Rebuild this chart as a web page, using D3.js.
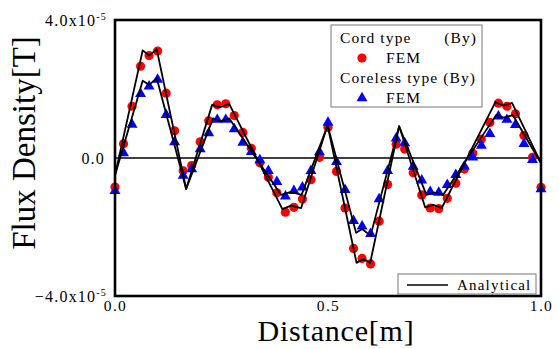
<!DOCTYPE html>
<html>
<head>
<meta charset="utf-8">
<script src="https://cdn.jsdelivr.net/npm/d3@7"></script>
<style>
  body { margin: 0; background: #fff; }
  svg { display: block; }
  svg text { font-family: "Liberation Serif", "DejaVu Serif", serif; }
</style>
</head>
<body>
<div id="chart"></div>
<script>
// Distance positions of the FEM samples [m]
const distance = [0.00, 0.02, 0.04, 0.06, 0.08, 0.10, 0.12, 0.14, 0.16, 0.18,
  0.20, 0.22, 0.24, 0.26, 0.28, 0.30, 0.32, 0.34, 0.36, 0.38,
  0.40, 0.42, 0.44, 0.46, 0.48, 0.50, 0.52, 0.54, 0.56, 0.58,
  0.60, 0.62, 0.64, 0.66, 0.68, 0.70, 0.72, 0.74, 0.76, 0.78,
  0.80, 0.82, 0.84, 0.86, 0.88, 0.90, 0.92, 0.94, 0.96, 0.98, 1.00];

// FEM values, unit 1e-5 T
const cordFEM = [-0.84, 0.41, 1.50, 2.66, 2.97, 3.10, 1.88, 0.79, -0.37, -0.22,
  0.47, 1.08, 1.54, 1.57, 1.23, 0.74, 0.28, -0.14, -0.56, -1.01,
  -1.57, -1.43, -1.19, -0.63, 0.02, 0.89, -0.39, -1.45, -2.62, -2.91,
  -3.07, -1.83, -0.77, 0.40, 0.26, -0.43, -1.07, -1.45, -1.47, -1.17,
  -0.73, -0.32, 0.14, 0.55, 1.03, 1.59, 1.50, 1.28, 0.65, 0.02, -0.85];

const corelessFEM = [-0.95, 0.14, 0.97, 1.86, 2.08, 2.27, 1.25, 0.46, -0.51, -0.32,
  0.26, 0.72, 1.11, 1.11, 0.84, 0.45, 0.18, -0.06, -0.37, -0.69,
  -1.11, -0.95, -0.85, -0.37, 0.17, 1.03, -0.11, -0.92, -1.82, -1.98,
  -2.20, -1.19, -0.37, 0.57, 0.43, -0.25, -0.65, -0.98, -1.00, -0.78,
  -0.49, -0.24, 0.02, 0.36, 0.70, 1.21, 1.11, 0.96, 0.41, -0.05, -0.90];

// Analytical curves (break points), unit 1e-5 T
const cordAnaX = [0, 0.065, 0.08, 0.098, 0.167, 0.228, 0.247, 0.268, 0.393, 0.413, 0.437, 0.499,
  0.567, 0.583, 0.599, 0.667, 0.728, 0.747, 0.767, 0.893, 0.912, 0.932, 1.0];
const cordAnaY = [-0.5, 3.12, 2.97, 3.15, -0.9, 1.54, 1.47, 1.57, -1.48, -1.38, -1.45, 0.95,
  -3.04, -2.93, -3.04, 0.92, -1.43, -1.36, -1.45, 1.62, 1.52, 1.60, -0.15];

const corelessAnaX = [0, 0.065, 0.08, 0.098, 0.167, 0.23, 0.248, 0.268, 0.39, 0.413, 0.438, 0.499,
  0.566, 0.58, 0.6, 0.667, 0.731, 0.75, 0.77, 0.895, 0.912, 0.934, 1.0];
const corelessAnaY = [-0.5, 2.24, 2.12, 2.31, -0.9, 1.15, 1.07, 1.15, -1.07, -0.98, -1.07, 0.95,
  -2.17, -2.06, -2.25, 0.92, -1.07, -1.0, -1.07, 1.25, 1.17, 1.24, -0.15];

const xTicks = [0, 0.5, 1.0];
const yTicks = [-4, 0, 4];

const width = 559, height = 349;
const margin = {top: 20, right: 18, bottom: 53, left: 115};
const serif = '"Liberation Serif", "DejaVu Serif", serif';

const svg = d3.select("#chart").append("svg")
  .attr("width", width)
  .attr("height", height);

const x = d3.scaleLinear().domain([0, 1]).range([margin.left, width - margin.right]);
const y = d3.scaleLinear().domain([-4, 4]).range([height - margin.bottom, margin.top]);

// x axis labels
svg.append("g")
  .attr("transform", `translate(0,${height - margin.bottom})`)
  .call(d3.axisBottom(x).tickValues(xTicks).tickSize(0).tickPadding(4).tickFormat(d3.format(".1f")))
  .call(g => g.select(".domain").remove())
  .call(g => g.selectAll("text").attr("font-size", 15.5).attr("fill", "#000")
    .style("font-family", serif).style("letter-spacing", "1.3px"));

// y axis labels with 10^-5 exponent
svg.append("g")
  .attr("transform", `translate(${margin.left},0)`)
  .call(d3.axisLeft(y).tickValues(yTicks).tickSize(0).tickPadding(8).tickFormat(() => ""))
  .call(g => g.select(".domain").remove())
  .call(g => g.selectAll("text").each(function(d) {
    const t = d3.select(this).attr("font-size", 16).attr("fill", "#000")
      .style("font-family", serif).style("letter-spacing", "1.2px");
    if (d == 0) {
      t.attr("dx", -2).text("0.0");
    } else {
      t.append("tspan").text(d3.format(".1f")(d) + "x10");
      t.append("tspan").attr("dy", "-0.55em").attr("font-size", 10).text("-5");
    }
  }));

// zero line
svg.append("line")
  .attr("x1", x(0)).attr("x2", x(1))
  .attr("y1", y(0)).attr("y2", y(0))
  .attr("stroke", "#000").attr("stroke-width", 1.6);

// FEM markers
svg.append("g").selectAll("circle")
  .data(distance)
  .join("circle")
  .attr("cx", d => x(d))
  .attr("cy", (d, i) => y(cordFEM[i]))
  .attr("r", 4.6)
  .attr("fill", "#ff0000");

const tri = d3.symbol().type(d3.symbolTriangle).size(52);
svg.append("g").selectAll("path")
  .data(distance)
  .join("path")
  .attr("d", tri)
  .attr("transform", (d, i) => `translate(${x(d)},${y(corelessFEM[i])})`)
  .attr("fill", "#0000ff");

// analytical lines
const line = d3.line().x(d => x(d[0])).y(d => y(d[1]));
[[cordAnaX, cordAnaY], [corelessAnaX, corelessAnaY]].forEach(([xs, ys]) => {
  svg.append("path")
    .datum(xs.map((v, i) => [v, ys[i]]))
    .attr("d", line)
    .attr("fill", "none")
    .attr("stroke", "#000")
    .attr("stroke-width", 1.8)
    .attr("stroke-linejoin", "round");
});

// frame
svg.append("rect")
  .attr("x", x(0)).attr("y", y(4))
  .attr("width", x(1) - x(0)).attr("height", y(-4) - y(4))
  .attr("fill", "none").attr("stroke", "#000").attr("stroke-width", 2.6);

// legend (FEM)
const lg = svg.append("g").attr("font-size", 15.5).attr("fill", "#000");
lg.append("rect")
  .attr("x", 331).attr("y", 25).attr("width", 151).attr("height", 82)
  .attr("fill", "#fff").attr("stroke", "#777").attr("stroke-width", 1);
const legText = (xp, yp, s, anchor) => lg.append("text")
  .attr("x", xp).attr("y", yp).attr("text-anchor", anchor || "start")
  .style("font-family", serif).style("letter-spacing", "1.1px").text(s);
legText(340, 43, "Cord type");
legText(477, 43, "(By)", "end");
lg.append("circle").attr("cx", 362).attr("cy", 58).attr("r", 4.6).attr("fill", "#ff0000");
legText(386, 63, "FEM");
legText(340, 83, "Coreless type (By)");
lg.append("path").attr("d", tri).attr("transform", "translate(362,98)").attr("fill", "#0000ff");
legText(386, 103, "FEM");

// legend (Analytical)
const la = svg.append("g");
la.append("rect")
  .attr("x", 398).attr("y", 274).attr("width", 138).attr("height", 20)
  .attr("fill", "#fff").attr("stroke", "#777").attr("stroke-width", 1);
la.append("line").attr("x1", 407).attr("x2", 448).attr("y1", 285).attr("y2", 285)
  .attr("stroke", "#000").attr("stroke-width", 1.6);
la.append("text").attr("x", 457).attr("y", 290).attr("font-size", 15)
  .style("font-family", serif).style("letter-spacing", "1.2px").text("Analytical");

// axis titles
svg.append("text")
  .attr("x", 336).attr("y", 341)
  .attr("text-anchor", "middle")
  .attr("font-size", 30)
  .style("font-family", serif)
  .style("letter-spacing", "0.8px")
  .text("Distance[m]");

svg.append("text")
  .attr("transform", "translate(35,143) rotate(-90)")
  .attr("text-anchor", "middle")
  .attr("font-size", 33)
  .style("font-family", serif)
  .text("Flux Density[T]");
</script>
</body>
</html>
